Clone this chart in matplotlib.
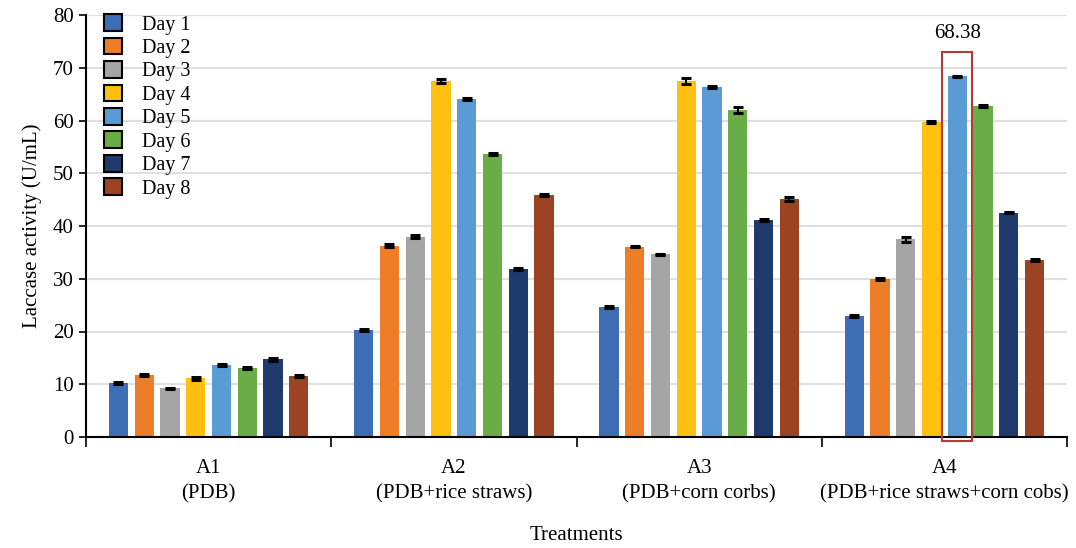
import numpy as np
import matplotlib.pyplot as plt
from matplotlib.patches import Rectangle

treatments = ["A1\n(PDB)", "A2\n(PDB+rice straws)", "A3\n(PDB+corn corbs)",
              "A4\n(PDB+rice straws+corn cobs)"]
days = ["Day 1", "Day 2", "Day 3", "Day 4", "Day 5", "Day 6", "Day 7", "Day 8"]

# rows = day, columns = treatment
day1 = [10.3, 20.3, 24.6, 22.9]
day2 = [11.7, 36.3, 36.1, 29.9]
day3 = [9.2, 38.0, 34.6, 37.5]
day4 = [11.1, 67.5, 67.5, 59.7]
day5 = [13.6, 64.1, 66.4, 68.38]
day6 = [13.0, 53.6, 62.0, 62.7]
day7 = [14.7, 31.8, 41.1, 42.5]
day8 = [11.5, 45.9, 45.1, 33.5]

err1 = [0.2, 0.2, 0.2, 0.2]
err2 = [0.15, 0.2, 0.15, 0.15]
err3 = [0.15, 0.3, 0.15, 0.45]
err4 = [0.2, 0.45, 0.55, 0.25]
err5 = [0.15, 0.25, 0.2, 0.15]
err6 = [0.2, 0.15, 0.5, 0.2]
err7 = [0.2, 0.15, 0.2, 0.1]
err8 = [0.2, 0.2, 0.35, 0.2]

values = [day1, day2, day3, day4, day5, day6, day7, day8]
errors = [err1, err2, err3, err4, err5, err6, err7, err8]
colors = ["#3d6db4", "#ed7d27", "#a5a5a5", "#ffc010",
          "#5b9bd5", "#6aac45", "#1f3a6d", "#9b4323"]

plt.rcParams.update({
    "font.family": ["Liberation Serif", "DejaVu Serif"],
    "font.size": 15,
})

fig = plt.figure(figsize=(10.76, 5.48), dpi=100)
ax = fig.add_axes([86 / 1076, 1 - 437 / 548, (1067 - 86) / 1076, (437 - 15) / 548])

x = np.arange(len(treatments))
step = 0.105
width = 0.078

for i, (vals, errs) in enumerate(zip(values, errors)):
    ax.bar(x + (i - 3.5) * step, vals, width=width, color=colors[i],
           label=days[i], zorder=2,
           yerr=errs, capsize=3.5,
           error_kw=dict(elinewidth=1.5, capthick=2.2, ecolor="black"))

# highlight the maximum
imax = 4
gmax = 3
cx = x[gmax] + (imax - 3.5) * step
ax.add_patch(Rectangle((cx - 0.062, -0.75), 0.124, 73.75, fill=False,
                       edgecolor="#b23a3a", linewidth=1.5, clip_on=False, zorder=3))
ax.text(cx, 74.6, f"{values[imax][gmax]:.2f}", ha="center", va="bottom", fontsize=15)

ax.set_xlim(-0.5, 3.5)
ax.set_ylim(0, 80)
ax.set_yticks(np.arange(0, 81, 10))
ax.set_xticks(x)
ax.set_xticklabels(treatments, linespacing=1.45)
ax.set_xticks(np.arange(-0.5, 3.6, 1), minor=True)
ax.tick_params(axis="x", which="major", length=0, pad=16)
ax.tick_params(axis="x", which="minor", length=7, width=1.2, direction="out")
ax.tick_params(axis="y", length=5, width=1.2, direction="out", pad=4)

ax.set_xlabel("Treatments", labelpad=16)
ax.set_ylabel("Laccase activity (U/mL)", labelpad=8)

ax.spines["top"].set_visible(False)
ax.spines["right"].set_visible(False)
ax.spines["left"].set_linewidth(1.5)
ax.spines["bottom"].set_linewidth(1.5)
ax.yaxis.grid(True, color="#e0e0e0", linewidth=1.5)
ax.set_axisbelow(True)

leg = ax.legend(loc="upper left", bbox_to_anchor=(0.002, 1.04), frameon=False,
                handlelength=0.9, handleheight=0.9, handletextpad=1.0,
                labelspacing=0.155, fontsize=14.5, borderaxespad=0.4)
for h in leg.legend_handles:
    h.set_edgecolor("black")
    h.set_linewidth(1.5)

fig.savefig("out.png", dpi=100)
